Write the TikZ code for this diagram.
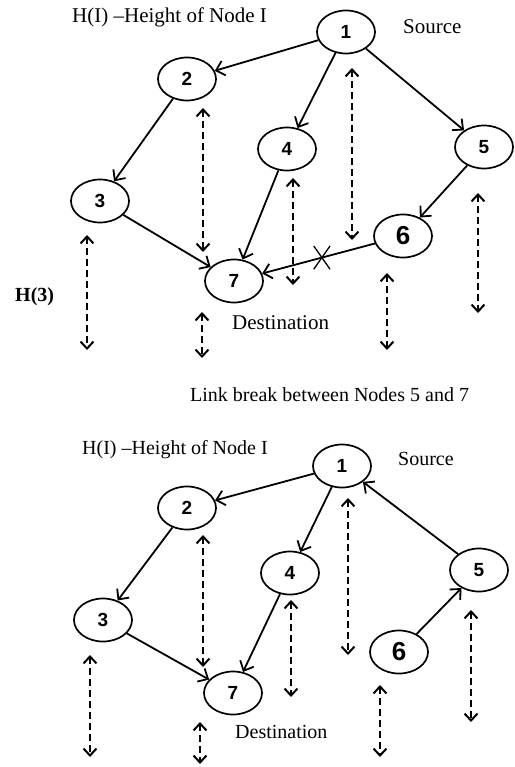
\documentclass[tikz,border=0pt]{standalone}
\usepackage{fontspec}
\setmainfont{Liberation Serif}
\setsansfont{Liberation Sans}
\usetikzlibrary{arrows.meta,shapes.geometric,shapes.misc}

\tikzstyle{nS}=[ellipse,minimum width=58pt,minimum height=43pt,inner sep=0pt,draw,line width=1.7pt,font=\sffamily\bfseries\fontsize{19}{19}\selectfont]
\tikzstyle{eS}=[line width=1.8pt,-{Straight Barb[length=8pt,width=15pt]}]
\tikzstyle{hS}=[line width=2pt,dash pattern=on 7pt off 4pt,{Straight Barb[length=7pt,width=13pt]}-{Straight Barb[length=7pt,width=13pt]}]
\tikzstyle{tS}=[anchor=west,inner sep=0pt,font=\fontsize{21}{21}\selectfont]
\tikzstyle{bS}=[cross out,draw,line width=1.3pt,minimum width=15pt,minimum height=22pt,inner sep=0pt]

\begin{document}
\begin{tikzpicture}[x=1pt,y=-1pt]
                \useasboundingbox (0,0) rectangle (514,767);
                % before the link break
                \draw (346,32) node[nS] (n1) {1};
                \draw (187,79) node[nS] (n2) {2};
                \draw (100,201) node[nS] (n3) {3};
                \draw (287,149) node[nS] (n4) {4};
                \draw (484,147) node[nS] (n5) {5};
                \draw (403,236) node[nS,font=\sffamily\bfseries\fontsize{26}{26}\selectfont] (n6) {6};
                \draw (234,281) node[nS] (n7) {7};
                \path
                    (n1) edge[eS] (n2)
                    (n1) edge[eS] (n4)
                    (n1) edge[eS] (n5)
                    (n2) edge[eS] (n3)
                    (n3) edge[eS] (n7)
                    (n4) edge[eS] (n7)
                    (n5) edge[eS] (n6)
                    (n6) edge[eS] node[bS,pos=0.47] (brk) {} (n7)
                ;
                \node[tS] (hI1) at (72,17) {H(I) \textendash Height of Node I};
                \node[tS] (src1) at (403,27) {Source};
                \node[tS] (dst1) at (232,323) {Destination};
                \node[tS,font=\bfseries\fontsize{20}{20}\selectfont] (h3) at (15,297) {H(3)};
                \foreach \x/\ya/\yb [count=\i] in {87/235/350,203/108/252,293/178/285,352/68/240,478/193/313,387/273/350,202/312/358}{
                    \coordinate (ta\i) at (\x,\ya);
                    \coordinate (tb\i) at (\x,\yb);
                    \draw[hS] (ta\i) -- (tb\i);
                }

                \node[tS,font=\fontsize{20}{20}\selectfont] (lb) at (190,395) {Link break between Nodes 5 and 7};

                % after the link break
                \draw (342,466) node[nS] (m1) {1};
                \draw (187,508) node[nS] (m2) {2};
                \draw (103,620) node[nS] (m3) {3};
                \draw (290,573) node[nS] (m4) {4};
                \draw (479,570) node[nS] (m5) {5};
                \draw (399,652) node[nS,font=\sffamily\bfseries\fontsize{26}{26}\selectfont] (m6) {6};
                \draw (233,693) node[nS] (m7) {7};
                \path
                    (m1) edge[eS] (m2)
                    (m1) edge[eS] (m4)
                    (m5) edge[eS] (m1)
                    (m2) edge[eS] (m3)
                    (m3) edge[eS] (m7)
                    (m4) edge[eS] (m7)
                    (m6) edge[eS] (m5)
                ;
                \node[tS,font=\fontsize{20}{20}\selectfont] (hI2) at (82,450) {H(I) \textendash Height of Node I};
                \node[tS,font=\fontsize{20}{20}\selectfont] (src2) at (398,459) {Source};
                \node[tS,font=\fontsize{20}{20}\selectfont] (dst2) at (235,732) {Destination};
                \foreach \x/\ya/\yb [count=\i] in {90/655/757,203/535/667,291/600/697,348/498/655,471/610/722,380/685/757,200/722/764}{
                    \coordinate (ba\i) at (\x,\ya);
                    \coordinate (bb\i) at (\x,\yb);
                    \draw[hS] (ba\i) -- (bb\i);
                }
\end{tikzpicture}
\end{document}
